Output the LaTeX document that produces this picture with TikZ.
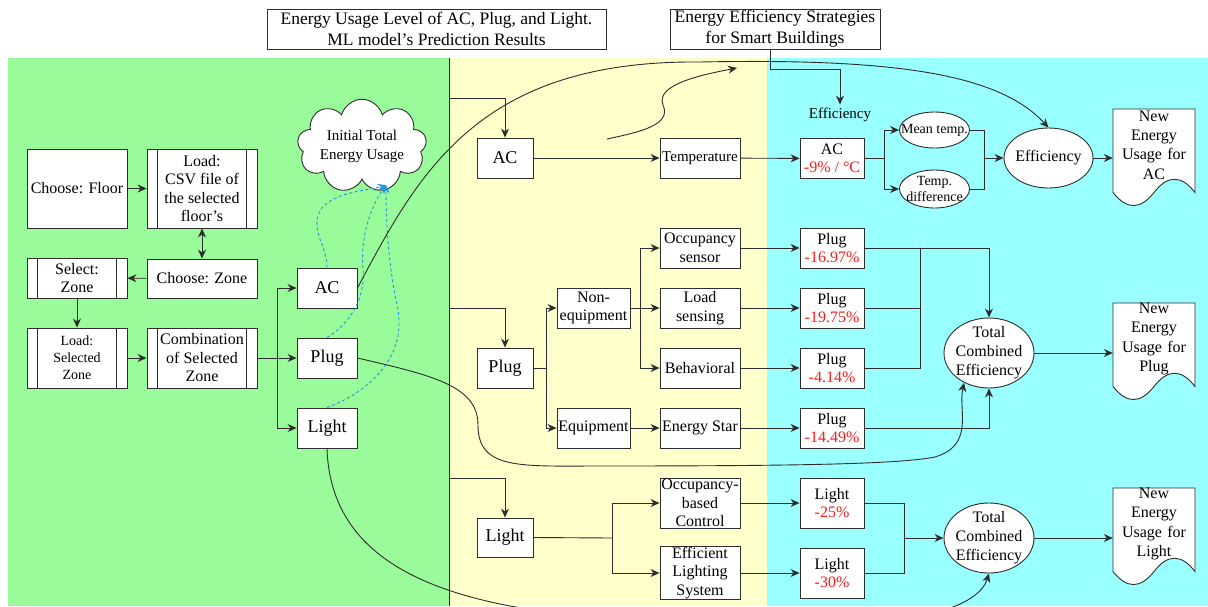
\documentclass[tikz,border=0pt]{standalone}
\usepackage{fontspec}
\setmainfont{Liberation Serif}
\definecolor{zoneGreen}{RGB}{153,251,153}
\definecolor{stratYellow}{RGB}{255,255,204}
\definecolor{effCyan}{RGB}{153,255,255}
\definecolor{predBlue}{RGB}{40,150,220}
\definecolor{lineDark}{RGB}{45,45,45}
\definecolor{pctRed}{RGB}{255,25,25}
\usetikzlibrary{shapes.geometric,shapes.symbols,arrows.meta}

% document outline: left x, top y
\newcommand{\docpath}[2]{%
  \filldraw[fill=white, draw=lineDark, line width=0.9pt] (#1,#2) -- (#1+82,#2) -- (#1+82,#2+83.5)
    .. controls (#1+68.3,#2+65.8) and (#1+54.7,#2+65.8) .. (#1+41,#2+83.5)
    .. controls (#1+27.3,#2+100.9) and (#1+13.7,#2+100.9) .. (#1,#2+83.5) -- cycle;}

\begin{document}
\begin{tikzpicture}[x=1pt, y=-1pt,
  wire/.style={draw=lineDark, line width=0.9pt},
  arr/.style={wire, -{Stealth[length=9pt,width=8pt]}},
  pred/.style={draw=predBlue, line width=0.9pt, dash pattern=on 3pt off 2.5pt, -{Stealth[length=8pt,width=7pt]}},
  box/.style={draw=lineDark, fill=white, line width=0.9pt, inner sep=1pt, align=center, font=\fontsize{16pt}{18.5pt}\selectfont},
  big/.style={font=\fontsize{18pt}{21pt}\selectfont},
  small/.style={font=\fontsize{14pt}{17pt}\selectfont},
  procbox/.style={box, path picture={
    \draw[lineDark, line width=0.9pt] ([xshift=10.5pt]path picture bounding box.north west) -- ([xshift=10.5pt]path picture bounding box.south west)
      ([xshift=-10.5pt]path picture bounding box.north east) -- ([xshift=-10.5pt]path picture bounding box.south east);}},
  oval/.style={ellipse, draw=lineDark, fill=white, line width=0.9pt, inner xsep=-2pt, inner ysep=-5pt, align=center, font=\fontsize{16pt}{19pt}\selectfont},
  title/.style={draw=lineDark, fill=white, line width=0.9pt, inner sep=0pt, align=center, font=\fontsize{17.5pt}{21pt}\selectfont},
  doctext/.style={text width=78pt, inner sep=2pt, align=center, font=\fontsize{16pt}{19.3pt}\selectfont}]

\useasboundingbox (0,0) rectangle (1208,606);
\fill[zoneGreen] (8,58) rectangle (449,606);
\fill[stratYellow] (449,58) rectangle (767,606);
\fill[effCyan] (767,58) rectangle (1208,606);
\draw[wire] (449,58) -- (449,606);

\node[title, minimum width=339pt, minimum height=40pt] (title1) at (436.5,29) {Energy Usage Level of AC, Plug, and Light.\\ML model's Prediction Results};
\node[title, minimum width=210pt, minimum height=40pt] (title2) at (775,29) {Energy Efficiency Strategies\\for Smart Buildings};

% zone selection
\node[box, minimum width=100pt, minimum height=79pt] (floor) at (77,188.5) {Choose: Floor};
\node[procbox, minimum width=110pt, minimum height=79pt] (loadcsv) at (202,188.5) {Load:\\CSV file of\\the selected\\floor's};
\node[box, minimum width=110pt, minimum height=39pt] (zone) at (202,278.5) {Choose: Zone};
\node[procbox, minimum width=100pt, minimum height=40pt] (selzone) at (77,278) {Select:\\Zone};
\node[procbox, small, minimum width=100pt, minimum height=60pt] (loadzone) at (77,358) {Load:\\Selected\\Zone};
\node[procbox, minimum width=110pt, minimum height=60pt] (combo) at (202,358) {Combination\\of Selected\\Zone};
\node[box, big, minimum width=60pt, minimum height=40pt] (acL) at (327,288) {AC};
\node[box, big, minimum width=60pt, minimum height=40pt] (plugL) at (327,358) {Plug};
\node[box, big, minimum width=60pt, minimum height=40pt] (lightL) at (327,428) {Light};
\node[cloud, cloud puffs=9, aspect=1.8, draw=lineDark, fill=white, line width=0.9pt, inner sep=0pt,
  minimum width=116pt, minimum height=68pt, align=center, font=\fontsize{15pt}{19pt}\selectfont] (init) at (362,146) {Initial Total\\Energy Usage};

% strategies
\node[box, big, minimum width=56pt, minimum height=40pt] (acY) at (505,158) {AC};
\node[box, font=\fontsize{15pt}{17pt}\selectfont, minimum width=80pt, minimum height=40pt] (temp) at (700,158) {Temperature};
\node[box, big, minimum width=56pt, minimum height=40pt] (plugY) at (505,368) {Plug};
\node[box, minimum width=73pt, minimum height=40pt] (noneq) at (593.5,308) {Non-\\equipment};
\node[box, minimum width=73pt, minimum height=40pt] (equip) at (593.5,428) {Equipment};
\node[box, minimum width=80pt, minimum height=40pt] (occ) at (700,248) {Occupancy\\sensor};
\node[box, minimum width=80pt, minimum height=40pt] (loadsens) at (700,308) {Load\\sensing};
\node[box, minimum width=80pt, minimum height=40pt] (behav) at (700,368) {Behavioral};
\node[box, minimum width=80pt, minimum height=40pt] (estar) at (700,428) {Energy Star};
\node[box, big, minimum width=56pt, minimum height=39pt] (lightY) at (505,537.5) {Light};
\node[box, minimum width=80pt, minimum height=50pt] (occctrl) at (700,503) {Occupancy-\\based\\Control};
\node[box, minimum width=80pt, minimum height=50pt] (efflight) at (700,573) {Efficient\\Lighting\\System};

% efficiency
\node[font=\fontsize{15pt}{18pt}\selectfont] (effl) at (840,115) {Efficiency};
\node[box, minimum width=64pt, minimum height=40pt] (effAC) at (832,158.5) {AC\\\textcolor{pctRed}{-9\% / °C}};
\node[oval, font=\fontsize{14pt}{16pt}\selectfont, inner xsep=-9pt, minimum width=70pt, minimum height=36pt] (mean) at (934.5,130) {Mean temp.};
\node[oval, font=\fontsize{14pt}{16pt}\selectfont, inner xsep=-4pt, minimum width=70pt, minimum height=38pt] (tdiff) at (934.5,189) {Temp.\\difference};
\node[oval, minimum width=89pt, minimum height=60pt] (effE) at (1048.5,158) {Efficiency};
\node[box, minimum width=64pt, minimum height=40pt] (p1) at (832,248) {Plug\\\textcolor{pctRed}{-16.97\%}};
\node[box, minimum width=64pt, minimum height=40pt] (p2) at (832,308) {Plug\\\textcolor{pctRed}{-19.75\%}};
\node[box, minimum width=64pt, minimum height=40pt] (p3) at (832,368) {Plug\\\textcolor{pctRed}{-4.14\%}};
\node[box, minimum width=64pt, minimum height=40pt] (p4) at (832,428) {Plug\\\textcolor{pctRed}{-14.49\%}};
\node[oval, minimum width=90pt, minimum height=70pt] (tceP) at (989,353) {Total\\Combined\\Efficiency};
\node[box, minimum width=64pt, minimum height=50pt] (l1) at (832,503) {Light\\\textcolor{pctRed}{-25\%}};
\node[box, minimum width=64pt, minimum height=50pt] (l2) at (832,573) {Light\\\textcolor{pctRed}{-30\%}};
\node[oval, minimum width=90pt, minimum height=70pt] (tceL) at (989,538) {Total\\Combined\\Efficiency};

\docpath{1113}{109}
\node[doctext] (docAC) at (1154,145) {New\\Energy\\Usage for\\AC};
\docpath{1113}{303}
\node[doctext] (docPlug) at (1154,339) {New\\Energy\\Usage for\\Plug};
\docpath{1113}{488}
\node[doctext] (docLight) at (1154,524) {New\\Energy\\Usage for\\Light};

% joints
\coordinate (split1) at (277,358);
\coordinate (busA) at (449,98);
\coordinate (busP) at (449,308);
\coordinate (busL) at (449,478);
\coordinate (split2) at (546,368);
\coordinate (split3) at (640,308);
\coordinate (split4) at (612,538);
\coordinate (split5) at (884,158.5);
\coordinate (join1) at (920,248);
\coordinate (join2) at (904,538);
\coordinate (join3) at (984,158);
\coordinate (sqA) at (607,139);
\coordinate (sqB) at (737,68);

\draw[arr] (floor) -- (loadcsv);
\draw[wire, {Stealth[length=9pt,width=8pt]}-{Stealth[length=9pt,width=8pt]}] (loadcsv) -- (zone);
\draw[arr] (zone) -- (selzone);
\draw[arr] (selzone) -- (loadzone);
\draw[arr] (loadzone) -- (combo);
\draw[arr] (combo) -- (plugL);
\draw[arr] (split1) |- (acL);
\draw[arr] (split1) |- (lightL);

\draw[pred] (acL.north) .. controls (327,245) and (308,228) .. (322,208) .. controls (335,192) and (370,190) .. ([xshift=24pt,yshift=-5pt]init.south);
\draw[pred] (plugL.north) .. controls (348,325) and (366,300) .. (363,268) .. controls (360,235) and (372,205) .. ([xshift=24pt,yshift=-5pt]init.south);
\draw[pred] (lightL.north) .. controls (362,395) and (412,360) .. (396,300) .. controls (388,260) and (386,220) .. ([xshift=24pt,yshift=-5pt]init.south);

\draw[arr] (acL.east) .. controls (420,170) and (480,60) .. (700,62) .. controls (900,58) and (1000,75) .. (effE.north);
\draw[arr] (sqA) .. controls (640,132) and (672,125) .. (663,105) .. controls (655,85) and (700,75) .. (sqB);
\draw[arr] (plugL.east) .. controls (430,375) and (478,385) .. (478,425) .. controls (478,470) and (520,466) .. (600,466)
  .. controls (800,466) and (900,464) .. (935,457) .. controls (975,445) and (958,410) .. (tceP.-130);
\draw[arr] (lightL.south) .. controls (330,540) and (400,585) .. (510,606) .. controls (740,645) and (970,635) .. (tceL.south);

\draw[arr] (busA) -| (acY.north);
\draw[arr] (busP) -| (plugY.north);
\draw[arr] (busL) -| (lightY.north);

\draw[arr] (acY) -- (temp);
\draw[arr] (temp) -- (effAC);
\draw[arr] ([xshift=-5pt]title2.south) -- ++(0,20) -| (effl.north);
\draw[wire] (effAC.east) -- (split5);
\draw[arr] (split5) |- (mean.west);
\draw[arr] (split5) |- (tdiff.west);
\draw[wire] (mean.east) -| (join3);
\draw[wire] (tdiff.east) -| (join3);
\draw[arr] (join3) -- (effE.west);
\draw[arr] (effE.east) -- (effE.east -| docAC.west);

\draw[wire] (plugY.east) -- (split2);
\draw[arr] (split2) |- (noneq.west);
\draw[arr] (split2) |- (equip.west);
\draw[arr] (noneq) -- (loadsens);
\draw[arr] (split3) |- (occ.west);
\draw[arr] (split3) |- (behav.west);
\draw[arr] (equip) -- (estar);
\draw[arr] (occ) -- (p1);
\draw[arr] (loadsens) -- (p2);
\draw[arr] (behav) -- (p3);
\draw[arr] (estar) -- (p4);
\draw[arr] (p1.east) -| (tceP.north);
\draw[wire] (p2.east) -| (join1);
\draw[wire] (p3.east) -| (join1);
\draw[arr] (p4.east) -| (tceP.south);
\draw[arr] (tceP.east) -- (tceP.east -| docPlug.west);

\draw[wire] (lightY.east) -- (split4);
\draw[arr] (split4) |- (occctrl.west);
\draw[arr] (split4) |- (efflight.west);
\draw[arr] (occctrl) -- (l1);
\draw[arr] (efflight) -- (l2);
\draw[wire] (l1.east) -| (join2);
\draw[wire] (l2.east) -| (join2);
\draw[arr] (join2) -- (tceL.west);
\draw[arr] (tceL.east) -- (tceL.east -| docLight.west);
\end{tikzpicture}
\end{document}
